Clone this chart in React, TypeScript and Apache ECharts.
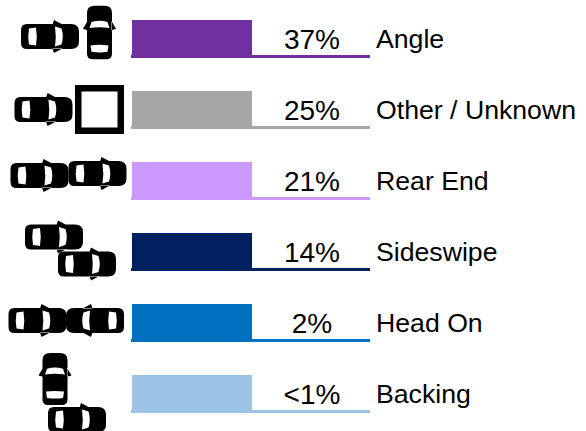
import React, { useEffect, useRef } from "react";
import * as echarts from "echarts";

const categories = ["Angle", "Other / Unknown", "Rear End", "Sideswipe", "Head On", "Backing"];
const percentLabels = ["37%", "25%", "21%", "14%", "2%", "<1%"];
const barColors = ["#7030A0", "#A6A6A6", "#CC99FF", "#002060", "#0070C0", "#9DC3E6"];
// every bar in the reference has the same length: half of its row's track
const barShare = [0.5, 0.5, 0.5, 0.5, 0.5, 0.5];

const FONT = '"Liberation Sans", Arial, sans-serif';

echarts.graphic.registerShape(
  "carBody",
  echarts.graphic.extendPath(
    "M-23 -12.5 L21 -12.5 Q29 -12.5 29 -5 L29 5 Q29 12.5 21 12.5 L-23 12.5 Q-29 12.5 -29 6.5 L-29 -6.5 Q-29 -12.5 -23 -12.5 Z " +
      "M2.5 -12 L4 -16.5 L12.5 -12 Z M2.5 12 L4 16.5 L12.5 12 Z",
    {}
  )
);
echarts.graphic.registerShape(
  "carGlass",
  echarts.graphic.extendPath(
    "M-21 -8 L-14 -9 Q-12.5 0 -14 9 L-21 8 Q-22.5 0 -21 -8 Z " +
      "M5 -10 L11.5 -8 Q14 0 11.5 8 L5 10 Q6.5 0 5 -10 Z",
    {}
  )
);

function car(x: number, y: number, rotation = 0, scale = 1) {
  return {
    type: "group",
    x,
    y,
    rotation,
    scaleX: scale,
    scaleY: 1,
    silent: true,
    children: [
      { type: "carBody", style: { fill: "#000" } },
      { type: "carGlass", style: { fill: "#fff" } },
    ],
  };
}

const UP = Math.PI / 2;

export default function App() {
  const ref = useRef<HTMLDivElement>(null);
  useEffect(() => {
    document.body.style.margin = "0";
    const chart = echarts.init(ref.current!, null, { renderer: "svg" });
    chart.setOption({
      animation: false,
      backgroundColor: "#fff",
      grid: { left: 132, top: 3.5, width: 240, height: 426, containLabel: false },
      xAxis: { type: "value", min: 0, max: 1, show: false },
      yAxis: {
        type: "category",
        inverse: true,
        position: "right",
        data: categories,
        axisLine: { show: false },
        axisTick: { show: false },
        splitLine: { show: false },
        axisLabel: { color: "#000", fontFamily: FONT, fontSize: 26.67, margin: 4 },
      },
      series: [
        {
          type: "bar",
          barWidth: 38,
          data: barShare.map((v, i) => ({ value: v, itemStyle: { color: barColors[i] } })),
        },
        {
          type: "custom",
          data: categories.map((_, i) => [0, i]),
          encode: { x: 0, y: 1 },
          renderItem: (_p: any, api: any) => {
            const i = api.value(1);
            const [x0, cy] = api.coord([0, i]);
            const [x1] = api.coord([1, i]);
            return {
              type: "group",
              children: [
                {
                  type: "rect",
                  shape: { x: x0 - 1, y: cy + 16, width: x1 - x0 - 1, height: 3 },
                  style: { fill: barColors[i] },
                },
                {
                  type: "text",
                  style: {
                    x: x0 + (x1 - x0) * 0.75,
                    y: cy,
                    text: percentLabels[i],
                    fill: "#000",
                    font: `28px ${FONT}`,
                    align: "center",
                    verticalAlign: "middle",
                  },
                },
              ],
            };
          },
        },
      ],
      graphic: {
        elements: [
          car(50, 36.5),
          car(99.5, 32.5, UP, 0.92),
          car(43.5, 109.5),
          { type: "rect", shape: { x: 78.25, y: 88.25, width: 42.5, height: 42.5 }, style: { fill: "none", stroke: "#000", lineWidth: 6.5 } },
          car(39.5, 175.5),
          car(97.5, 173.5),
          car(54, 237),
          car(87, 264),
          car(37.5, 320.5),
          car(95, 320.5, Math.PI),
          car(55, 379, UP, 0.9),
          car(77, 419.5),
        ],
      },
    });
    return () => chart.dispose();
  }, []);
  return <div ref={ref} style={{ width: 586, height: 431 }} />;
}
